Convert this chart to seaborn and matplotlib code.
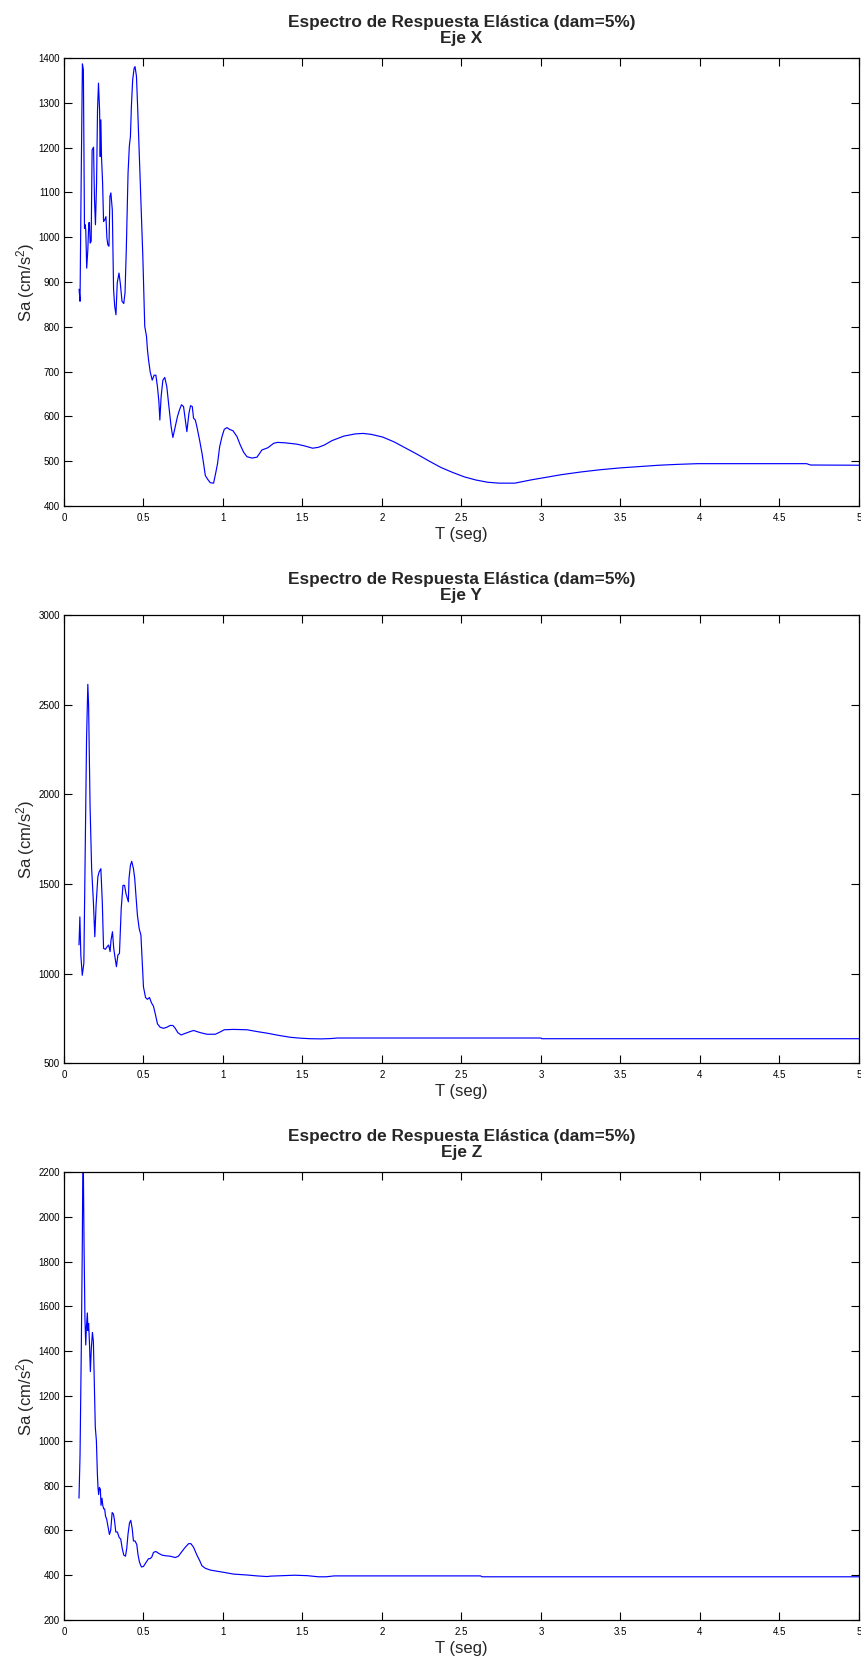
import matplotlib
matplotlib.use('Agg')
import matplotlib.pyplot as plt
import matplotlib.ticker as mticker
import seaborn as sns
import numpy as np

# Eje X
t_x = [0.095, 0.101, 0.108, 0.116, 0.122, 0.129, 0.133, 0.137, 0.143, 0.150,
       0.156, 0.160, 0.165, 0.171, 0.177, 0.186, 0.192, 0.198, 0.205, 0.211,
       0.217, 0.224, 0.228, 0.232, 0.236, 0.243, 0.249, 0.257, 0.264, 0.270,
       0.276, 0.283, 0.289, 0.295, 0.304, 0.312, 0.319, 0.327, 0.335, 0.346,
       0.354, 0.365, 0.376, 0.384, 0.392, 0.403, 0.411, 0.418, 0.424, 0.432,
       0.441, 0.447, 0.456, 0.464, 0.475, 0.485, 0.496, 0.504, 0.508, 0.519,
       0.525, 0.532, 0.542, 0.555, 0.567, 0.578, 0.588, 0.597, 0.603, 0.611,
       0.622, 0.634, 0.647, 0.660, 0.674, 0.685, 0.700, 0.714, 0.727, 0.739,
       0.752, 0.763, 0.773, 0.786, 0.796, 0.807, 0.815, 0.826, 0.836, 0.853,
       0.868, 0.878, 0.889, 0.903, 0.920, 0.941, 0.954, 0.966, 0.979, 0.994,
       1.008, 1.025, 1.042, 1.063, 1.088, 1.109, 1.130, 1.151, 1.183, 1.214,
       1.245, 1.282, 1.319, 1.343, 1.392, 1.466, 1.515, 1.564, 1.600, 1.637,
       1.686, 1.760, 1.833, 1.882, 1.931, 2.004, 2.077, 2.151, 2.224, 2.298,
       2.371, 2.444, 2.518, 2.591, 2.665, 2.738, 2.836, 2.934, 3.032, 3.130,
       3.252, 3.374, 3.497, 3.619, 3.741, 3.864, 3.986, 4.231, 4.671, 4.695,
       5.0]
sa_x = [884, 857, 1121, 1387, 1374, 1020, 1028, 1017, 931, 972,
        1032, 1033, 987, 991, 1195, 1201, 1084, 1028, 1121, 1284,
        1344, 1284, 1180, 1262, 1180, 1121, 1035, 1039, 1046, 998,
        983, 980, 1091, 1099, 1061, 883, 846, 827, 898, 920,
        898, 857, 852, 876, 972, 1143, 1203, 1225, 1292, 1351,
        1377, 1381, 1359, 1284, 1173, 1076, 957, 853, 801, 779,
        749, 726, 700, 681, 692, 692, 666, 633, 592, 644,
        681, 687, 666, 622, 577, 553, 577, 600, 615, 626,
        622, 592, 566, 607, 624, 622, 596, 592, 577, 547,
        518, 495, 468, 460, 452, 451, 473, 495, 532, 555,
        571, 575, 571, 568, 555, 536, 520, 510, 507, 509,
        525, 530, 540, 542, 541, 538, 534, 529, 531, 536,
        546, 556, 561, 562, 560, 554, 543, 529, 515, 500,
        486, 475, 465, 458, 453, 451, 451, 458, 464, 470,
        476, 481, 485, 488, 491, 493, 494.5, 494.5, 494.5, 491.5,
        491]

# Eje Y
t_y = [0.0945, 0.100, 0.106, 0.115, 0.125, 0.132, 0.142, 0.150, 0.155, 0.164,
       0.174, 0.185, 0.194, 0.202, 0.213, 0.221, 0.232, 0.241, 0.249, 0.260,
       0.271, 0.281, 0.290, 0.296, 0.305, 0.313, 0.322, 0.330, 0.339, 0.349,
       0.360, 0.371, 0.381, 0.390, 0.405, 0.409, 0.418, 0.426, 0.437, 0.445,
       0.454, 0.462, 0.473, 0.484, 0.500, 0.513, 0.525, 0.538, 0.550, 0.563,
       0.576, 0.588, 0.605, 0.626, 0.647, 0.668, 0.685, 0.700, 0.716, 0.737,
       0.763, 0.794, 0.815, 0.857, 0.899, 0.952, 0.983, 1.008, 1.067, 1.151,
       1.214, 1.277, 1.361, 1.424, 1.487, 1.550, 1.620, 1.680, 1.720, 3.000,
       3.005, 5.0]
sa_y = [1160, 1316, 1103, 990, 1057, 1566, 2308, 2614, 2493, 1937,
        1585, 1400, 1205, 1381, 1539, 1567, 1585, 1400, 1140, 1135,
        1149, 1159, 1122, 1187, 1233, 1140, 1084, 1038, 1103, 1112,
        1362, 1492, 1492, 1446, 1400, 1530, 1604, 1626, 1585, 1530,
        1419, 1325, 1251, 1214, 925, 866, 856, 866, 837, 817,
        768, 719, 700, 694, 700, 710, 710, 694, 670, 657,
        666, 676, 682, 670, 661, 661, 674, 686, 688, 686,
        676, 667, 653, 644, 639, 636, 635, 637, 640, 640,
        636, 636]

# Eje Z
t_z = [0.0945, 0.101, 0.109, 0.1155, 0.120, 0.126, 0.132, 0.137, 0.141, 0.147,
       0.151, 0.155, 0.160, 0.166, 0.172, 0.179, 0.185, 0.191, 0.197, 0.204,
       0.210, 0.214, 0.218, 0.223, 0.229, 0.233, 0.239, 0.244, 0.250, 0.256,
       0.261, 0.269, 0.277, 0.286, 0.294, 0.303, 0.311, 0.317, 0.326, 0.336,
       0.347, 0.357, 0.366, 0.376, 0.387, 0.395, 0.403, 0.412, 0.420, 0.429,
       0.437, 0.447, 0.458, 0.466, 0.475, 0.487, 0.500, 0.517, 0.532, 0.542,
       0.553, 0.563, 0.578, 0.595, 0.616, 0.637, 0.668, 0.700, 0.720, 0.742,
       0.763, 0.784, 0.798, 0.815, 0.836, 0.853, 0.868, 0.889, 0.920, 0.962,
       1.004, 1.067, 1.151, 1.214, 1.277, 1.300, 1.450, 1.530, 1.600, 1.650,
       1.700, 2.620, 2.630, 5.0]
sa_z = [744, 935, 1412, 1890, 2380, 1890, 1540, 1428, 1508, 1571,
        1492, 1524, 1444, 1309, 1412, 1484, 1444, 1253, 1062, 999,
        855, 792, 760, 792, 784, 712, 744, 712, 696, 696,
        665, 649, 617, 582, 601, 680, 673, 649, 593, 593,
        569, 561, 521, 490, 485, 521, 585, 633, 645, 609,
        553, 553, 537, 490, 458, 437, 439, 458, 474, 474,
        482, 502, 506, 498, 490, 487, 485, 479, 485, 506,
        525, 541, 541, 525, 490, 466, 442, 431, 423, 418,
        413, 405, 401, 397, 394, 396, 400, 398, 393, 393,
        397, 397, 393, 393]

ejes = ['Eje X', 'Eje Y', 'Eje Z']
ylims = [(400, 1400), (500, 3000), (200, 2200)]
ysteps = [100, 500, 200]

sns.set_style('ticks')
plt.rcParams['font.family'] = ['Liberation Sans', 'DejaVu Sans']
plt.rcParams['mathtext.fontset'] = 'custom'
plt.rcParams['mathtext.rm'] = 'Liberation Sans'
plt.rcParams['mathtext.default'] = 'regular'

fig = plt.figure(figsize=(8.61, 16.59), dpi=100)
bottoms = [0.6950, 0.3592, 0.0235]
datos = [(t_x, sa_x), (t_y, sa_y), (t_z, sa_z)]

for i in range(3):
    ax = fig.add_axes([0.0743, bottoms[i], 0.9233, 0.2700])
    t, sa = datos[i]
    sns.lineplot(x=t, y=sa, ax=ax, color='#0000ff', linewidth=0.85,
                 estimator=None, sort=False)
    ax.set_xlim(0, 5)
    ax.set_ylim(*ylims[i])
    ax.set_xticks(np.arange(0, 5.01, 0.5))
    ax.set_yticks(np.arange(ylims[i][0], ylims[i][1] + 1, ysteps[i]))
    ax.xaxis.set_major_formatter(mticker.FormatStrFormatter('%g'))
    ax.tick_params(direction='in', top=True, right=True, length=5.5,
                   width=0.8, labelsize=7, colors='black')
    ax.tick_params(axis='x', pad=4.8)
    ax.tick_params(axis='y', pad=3)
    for s in ax.spines.values():
        s.set_visible(True)
        s.set_linewidth(0.9)
        s.set_color('black')
    ax.set_title('Espectro de Respuesta Elástica (dam=5%)\n' + ejes[i],
                 fontsize=12.4, fontweight='bold', pad=11, linespacing=1.05)
    ax.set_xlabel('T (seg)', fontsize=12, labelpad=3)
    ax.set_ylabel('Sa (cm/s$^2$)', fontsize=12, labelpad=1)

fig.savefig('out.png', dpi=100)
